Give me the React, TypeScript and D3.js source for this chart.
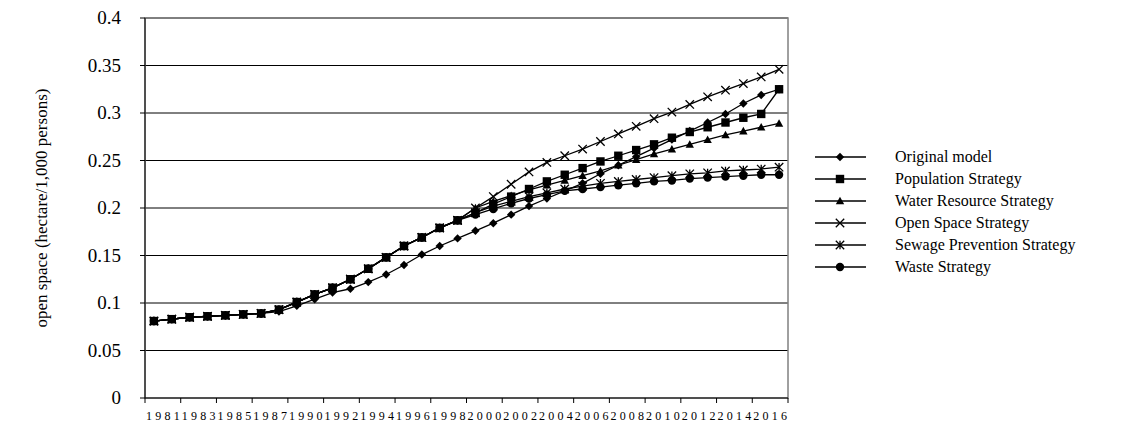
import React from "react";
import * as d3 from "d3";

const years = ["1981","1982","1983","1984","1985","1986","1987","1989","1990","1991","1992","1993","1994","1995","1996","1997","1998","1999","2000","2001","2002","2003","2004","2005","2006","2007","2008","2009","2010","2011","2012","2013","2014","2015","2016","2017"];
const early = [0.081,0.083,0.085,0.086,0.087,0.088,0.089];
const popMid = [0.093,0.101,0.109,0.116,0.125,0.136,0.148,0.160,0.169,0.179,0.187];
const original = [...early,0.091,0.097,0.104,0.111,0.115,0.122,0.130,0.140,0.151,0.160,0.168,0.176,0.184,0.193,0.202,0.210,0.218,0.226,0.236,0.245,0.254,0.263,0.272,0.281,0.290,0.299,0.310,0.319,0.325];
const population = [...early,...popMid,0.195,0.204,0.212,0.220,0.228,0.235,0.242,0.249,0.255,0.261,0.267,0.274,0.280,0.285,0.290,0.295,0.299,0.325];
const water = [...early,...popMid,0.200,0.207,0.213,0.219,0.224,0.229,0.234,0.239,0.245,0.251,0.257,0.262,0.267,0.272,0.277,0.281,0.285,0.289];
const openSpace = [...early,...popMid,0.200,0.212,0.225,0.238,0.248,0.255,0.262,0.270,0.278,0.286,0.294,0.301,0.309,0.317,0.324,0.331,0.338,0.346];
const sewage = [...early,...popMid,0.195,0.202,0.207,0.212,0.216,0.220,0.223,0.226,0.228,0.230,0.232,0.234,0.236,0.237,0.239,0.240,0.241,0.243];
const waste = [...early,...popMid,0.193,0.199,0.205,0.210,0.214,0.218,0.220,0.222,0.224,0.226,0.228,0.229,0.231,0.232,0.233,0.234,0.235,0.235];
const seriesNames = ["Original model","Population Strategy","Water Resource Strategy","Open Space Strategy","Sewage Prevention Strategy","Waste Strategy"];
const seriesValues = [original,population,water,openSpace,sewage,waste];
const markers = ["diamond","square","triangle","x","star","circle"];
const yTicks = [0,0.05,0.1,0.15,0.2,0.25,0.3,0.35,0.4];

const font = "'Liberation Serif', 'Times New Roman', serif";

function Marker({ type, x, y }: { type: string; x: number; y: number }) {
  const s = 4.2;
  switch (type) {
    case "diamond":
      return <path d={`M${x},${y - s}L${x + s},${y}L${x},${y + s}L${x - s},${y}Z`} fill="#000" />;
    case "square":
      return <rect x={x - s} y={y - s} width={2 * s} height={2 * s} fill="#000" />;
    case "triangle":
      return <path d={`M${x},${y - s}L${x + s},${y + s * 0.8}L${x - s},${y + s * 0.8}Z`} fill="#000" />;
    case "x":
      return <path d={`M${x - s},${y - s}L${x + s},${y + s}M${x - s},${y + s}L${x + s},${y - s}`} stroke="#000" strokeWidth={1.3} />;
    case "star":
      return <path d={`M${x - s},${y - s}L${x + s},${y + s}M${x - s},${y + s}L${x + s},${y - s}M${x},${y - s}L${x},${y + s}`} stroke="#000" strokeWidth={1.3} />;
    default:
      return <circle cx={x} cy={y} r={s} fill="#000" />;
  }
}

export default function App() {
  const W = 1141, H = 424;
  const left = 145, right = 788, top = 18, bottom = 398;
  const x = d3.scaleBand<string>().domain(years).range([left, right]);
  const y = d3.scaleLinear().domain([0, 0.4]).range([bottom, top]);
  const cx = (yr: string) => (x(yr) as number) + x.bandwidth() / 2;
  const line = d3.line<number>().x((_, i) => cx(years[i])).y((v) => y(v));
  const tickIdx = d3.range(0, years.length + 1, 2);
  return (
    <svg width={W} height={H} style={{ position: "absolute", left: 0, top: 0 }}>
      <rect width={W} height={H} fill="#fff" />
      {yTicks.slice(1).map((t) => (
        <line key={t} x1={left} x2={right} y1={y(t)} y2={y(t)} stroke="#000" strokeWidth={1} />
      ))}
      <rect x={left} y={top} width={right - left} height={bottom - top} fill="none" stroke="#808080" strokeWidth={1.5} />
      <line x1={left} x2={left} y1={top} y2={bottom} stroke="#000" />
      <line x1={left} x2={right} y1={bottom} y2={bottom} stroke="#000" />
      {yTicks.map((t) => (
        <g key={t}>
          <line x1={left - 5} x2={left} y1={y(t)} y2={y(t)} stroke="#000" />
          <text x={left - 24} y={y(t) + 6} textAnchor="end" fontFamily={font} fontSize={19}>{t}</text>
        </g>
      ))}
      {tickIdx.map((i) => {
        const xx = left + i * x.bandwidth();
        return <line key={i} x1={xx} x2={xx} y1={bottom} y2={bottom + 5} stroke="#000" />;
      })}
      {years.map((yr, i) =>
        i % 2 === 0 ? (
          <text key={yr} x={left + i * x.bandwidth() + 1} y={bottom + 22} fontFamily={font} fontSize={12} textLength={x.bandwidth() * 2 - 2} lengthAdjust="spacing">{yr}</text>
        ) : null
      )}
      <text transform={`translate(47,${(top + bottom) / 2}) rotate(-90)`} textAnchor="middle" fontFamily={font} fontSize={17}>open space (hectare/1,000 persons)</text>
      {seriesValues.map((vals, si) => (
        <g key={si}>
          <path d={line(vals) || ""} fill="none" stroke="#000" strokeWidth={1.3} />
          {vals.map((v, i) => <Marker key={i} type={markers[si]} x={cx(years[i])} y={y(v)} />)}
        </g>
      ))}
      {seriesNames.map((n, i) => {
        const ly = 157 + i * 22;
        return (
          <g key={n}>
            <line x1={815} x2={866} y1={ly} y2={ly} stroke="#000" strokeWidth={1.3} />
            <Marker type={markers[i]} x={840} y={ly} />
            <text x={895} y={ly + 5} fontFamily={font} fontSize={16}>{n}</text>
          </g>
        );
      })}
    </svg>
  );
}
